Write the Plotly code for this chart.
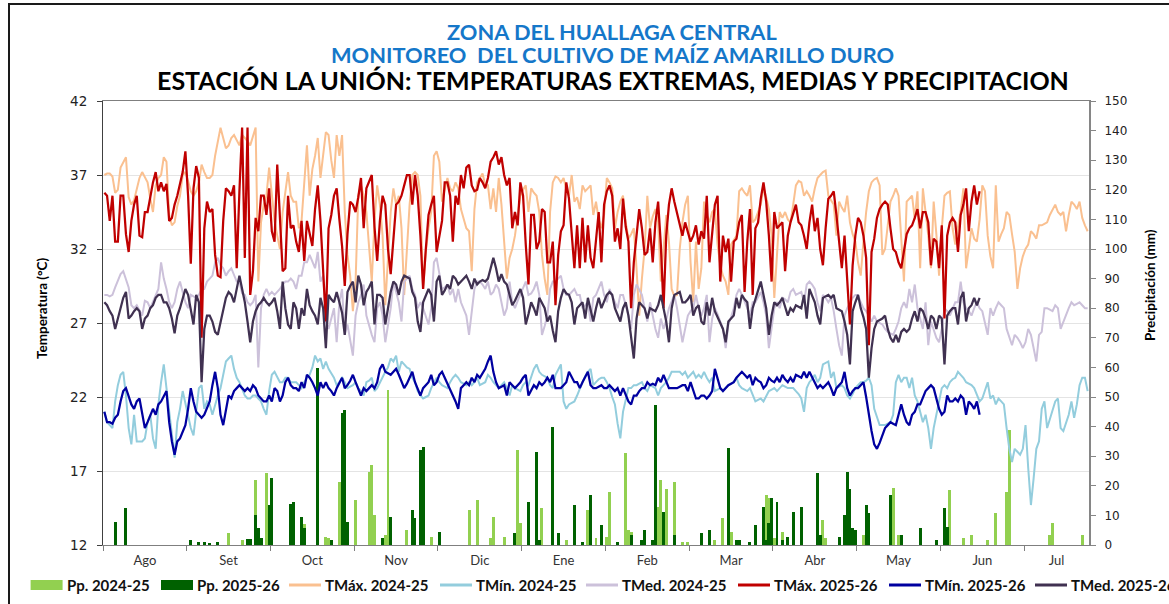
import plotly.graph_objects as go

MONTHS = ["Ago", "Set", "Oct", "Nov", "Dic", "Ene", "Feb", "Mar", "Abr", "May", "Jun", "Jul"]

TMAX_2425 = [
 37.0,37.1,37.1,36.9,35.8,36.0,37.5,37.9,38.2,35.5,35.0,35.3,36.1,36.8,37.2,36.8,36.5,35.4,34.5,36.3,
 36.8,37.0,38.2,37.9,34.3,33.6,33.8,34.9,35.6,37.0,37.2,36.6,35.9,35.6,35.9,36.5,37.7,37.2,36.8,36.8,
 37.0,38.3,39.3,40.2,39.5,38.8,39.0,39.5,39.7,39.3,39.0,39.7,39.5,39.3,39.0,39.6,40.2,29.8,33.8,35.0,
 35.6,37.5,35.6,33.9,32.9,32.0,34.5,36.0,37.2,35.6,35.2,
 35.2,33.4,33.9,36.8,39.0,35.6,37.4,38.3,39.5,36.8,38.3,39.9,39.7,38.0,36.8,39.7,38.3,39.7,34.5,31.6,
 30.2,27.8,29.8,35.6,36.3,35.6,34.5,32.4,29.8,33.9,36.3,35.0,32.9,28.2,31.5,34.5,36.1,35.0,35.6,33.4,
 28.9,32.0,35.0,37.0,37.2,37.0,35.6,29.3,31.8,33.4,34.5,38.3,38.6,37.9,35.2,36.0,36.8,36.1,35.9,36.5,
 36.1,34.7,34.0,33.4,33.2,30.5,34.7,36.5,36.8,37.1,36.3,36.3,34.7,36.1,34.5,36.8,35.0,32.3,
 30.0,31.4,32.0,32.9,34.3,35.6,36.0,36.3,34.5,36.1,35.8,35.6,34.5,31.6,30.0,28.9,34.5,36.5,36.9,36.8,
 36.5,36.8,36.0,35.6,37.0,35.2,35.5,34.7,36.3,35.9,36.1,36.3,34.3,35.2,34.0,33.4,34.3,36.8,36.5,36.1,
 33.4,34.5,35.2,35.6,33.8,32.7,33.0,33.4,30.7,27.5,30.0,32.0,35.6,33.4,34.2,34.7,33.8,29.8,32.0,34.3,
 32.5,29.3,28.8,28.9,32.0,33.8,35.0,35.6,31.1,28.4,32.5,29.3,30.7,35.2,
 34.3,33.8,34.5,34.7,32.3,30.9,30.2,29.8,28.9,32.3,32.6,32.9,35.9,36.1,35.8,35.6,36.3,33.8,34.0,34.5,
 35.0,36.1,35.5,34.7,32.9,28.7,31.5,34.5,34.1,34.5,34.0,33.8,35.0,36.3,36.6,36.5,35.6,35.9,35.6,35.2,
 36.1,36.8,37.0,37.2,37.3,35.6,35.3,35.0,32.9,35.2,34.8,34.5,35.6,33.8,33.0,32.5,31.1,30.2,32.5,34.5,
 35.9,36.5,36.7,36.8,36.3,31.6,32.0,33.8,35.2,35.6,36.1,35.6,32.3,29.8,
 35.2,35.4,35.6,34.0,35.9,30.7,36.1,34.5,32.9,30.7,35.2,33.0,30.2,33.4,35.6,35.8,35.9,33.4,32.3,33.5,
 34.5,36.1,30.7,32.0,33.4,32.7,32.5,34.0,36.3,35.9,32.9,31.5,30.7,36.3,32.5,33.0,33.4,34.5,34.3,33.0,
 31.8,29.3,30.7,31.5,32.0,32.3,33.2,33.0,32.7,33.6,33.6,33.7,33.8,34.3,34.7,35.0,34.5,34.3,34.5,33.2,
 34.3,35.2,35.0,34.7,35.2,34.1,33.6,33.2,
]

TMIN_2425 = [
 21.0,20.3,20.1,19.9,21.7,22.8,23.5,23.7,22.1,19.9,18.8,20.8,19.0,19.0,19.0,19.2,20.3,20.8,19.2,18.5,
 21.5,23.0,24.2,22.6,21.0,19.4,17.9,20.3,21.2,22.4,21.5,20.8,19.9,19.4,21.0,22.6,22.8,21.2,21.7,21.5,
 20.8,21.5,22.1,22.6,23.5,24.4,24.6,24.8,23.9,23.3,23.0,22.6,22.1,21.9,21.9,22.1,22.1,21.9,21.7,21.2,
 20.8,22.4,23.5,23.7,23.3,23.0,23.0,23.3,23.3,23.0,23.0,
 23.0,22.8,22.6,23.0,23.3,23.5,24.0,24.8,24.4,24.6,23.9,24.4,23.9,23.6,23.3,22.8,23.0,23.3,23.0,22.6,
 22.7,22.8,23.0,22.6,22.4,22.1,23.0,23.1,23.3,22.4,22.6,23.0,23.3,23.7,24.0,24.6,24.4,24.8,23.7,24.4,
 24.2,24.0,23.9,23.3,23.0,22.4,22.1,21.9,22.0,22.1,22.6,23.0,23.3,23.0,22.8,22.7,22.6,23.0,23.3,23.5,
 23.3,23.0,22.9,22.8,23.0,22.8,23.0,23.3,22.8,22.9,23.0,23.5,23.3,23.0,22.8,22.6,22.8,23.0,
 22.6,22.1,22.8,22.6,22.5,22.4,22.8,23.0,22.8,23.4,23.9,24.2,23.7,23.5,23.4,23.3,22.8,22.6,23.5,23.9,
 24.2,21.7,21.2,21.5,21.6,21.7,22.1,22.6,23.0,23.4,23.7,23.9,22.8,23.0,23.2,23.3,23.3,23.0,22.6,22.0,
 21.5,20.2,19.2,21.0,21.8,22.6,22.6,22.8,22.8,22.9,23.0,22.6,22.4,22.8,22.7,22.6,22.1,22.6,22.8,23.0,
 23.3,23.7,23.7,23.7,23.7,23.5,23.7,23.3,23.5,23.7,23.3,23.5,23.3,23.7,
 23.3,23.0,23.3,22.4,22.5,22.6,22.4,22.6,22.8,22.9,23.0,23.3,22.8,22.6,22.5,22.4,22.6,22.1,21.7,21.8,
 21.9,21.7,22.1,22.4,22.5,22.6,22.4,22.6,22.8,22.7,22.6,22.6,22.6,22.4,22.2,21.9,21.0,22.6,23.0,23.2,
 23.5,23.0,23.3,24.2,24.3,24.4,23.3,23.7,22.6,22.7,22.8,22.6,22.1,21.9,22.2,22.6,22.8,23.0,23.0,23.1,
 23.3,22.8,21.2,20.6,20.1,20.1,20.1,20.2,20.3,20.8,23.0,23.5,23.0,23.3,
 23.3,22.6,23.3,22.1,21.7,21.0,20.3,20.8,19.9,18.5,19.9,20.8,21.7,22.6,22.8,22.6,23.0,23.2,23.3,23.7,
 23.5,23.3,23.0,22.9,22.8,22.6,22.1,21.7,21.9,22.5,23.0,21.9,22.1,21.5,21.9,21.7,21.5,19.9,18.5,17.6,
 18.5,18.3,18.1,18.5,20.1,17.2,14.7,16.5,18.5,19.0,21.2,21.7,19.9,20.5,21.2,21.7,21.9,19.9,19.7,20.2,
 20.8,21.7,20.6,21.5,22.8,23.3,23.3,22.4,
]

TMED_2425 = [
 28.9,28.9,28.8,28.9,29.4,29.8,30.3,30.5,29.9,29.4,28.2,28.0,28.2,27.8,27.5,28.5,28.4,28.0,28.4,28.9,
 29.3,31.1,30.0,29.3,28.4,28.0,28.4,29.3,29.8,29.1,28.4,28.0,28.9,28.8,28.7,28.9,29.3,29.3,29.8,30.0,
 30.2,31.1,31.4,30.9,30.7,30.2,30.5,30.7,30.2,29.8,29.8,29.0,28.9,28.4,28.2,28.4,28.9,24.0,28.0,28.9,
 29.3,28.9,29.1,28.9,29.1,29.3,29.6,29.8,29.8,30.0,29.8,
 29.3,30.2,30.2,31.1,31.1,31.6,31.2,30.7,31.8,29.8,30.2,27.1,26.6,27.3,28.0,25.7,28.4,29.3,26.2,26.9,
 25.8,24.8,27.5,28.4,28.9,29.6,27.5,26.8,26.2,25.7,28.0,28.4,27.5,25.7,26.9,28.0,29.8,29.1,28.4,27.1,
 29.8,30.0,30.2,29.3,28.9,28.0,28.4,28.0,27.4,26.9,28.0,31.1,31.4,30.2,29.3,29.4,29.6,28.9,29.3,28.4,
 29.3,28.4,28.0,27.5,26.2,28.0,29.3,29.8,29.8,29.6,29.3,29.8,28.9,29.1,29.6,29.3,28.5,27.5,
 28.0,29.8,28.4,28.0,28.5,28.9,29.3,29.8,28.9,29.0,29.3,29.8,28.9,26.2,26.8,27.5,29.3,29.8,29.8,30.0,
 30.2,29.3,28.9,28.9,29.1,29.3,28.9,28.9,28.0,28.2,28.4,27.1,28.7,28.9,29.4,29.8,28.9,28.4,29.3,28.8,
 28.4,28.0,28.9,28.9,28.2,27.5,26.6,28.9,29.6,29.2,28.9,28.0,27.1,28.4,27.5,26.6,26.0,27.3,26.6,27.2,
 28.0,28.4,28.9,28.0,26.8,25.7,26.6,27.5,27.8,28.0,28.9,28.0,27.5,28.0,
 28.9,25.7,27.3,28.0,27.6,27.1,26.6,25.3,26.9,27.4,28.0,28.9,29.3,28.9,28.5,28.0,27.5,28.4,28.4,28.8,
 29.1,28.4,27.5,25.3,26.5,28.0,28.4,28.0,28.7,28.6,28.4,29.1,29.3,28.9,29.0,29.1,28.4,29.6,29.8,29.6,
 29.3,28.4,27.8,28.9,28.7,28.4,28.7,27.8,26.6,25.5,24.8,27.5,28.0,28.4,28.7,28.9,28.9,28.4,28.0,27.8,
 27.5,27.1,27.5,27.1,27.0,26.9,26.6,26.4,26.3,26.2,26.6,27.1,28.0,28.4,
 28.0,29.3,28.4,29.6,28.0,27.2,26.6,28.4,25.5,27.1,26.6,26.0,25.7,26.6,28.0,27.8,27.5,28.0,28.4,28.4,
 29.8,28.4,28.0,27.8,27.5,28.0,28.4,28.0,27.8,27.0,26.2,28.0,27.5,28.0,28.4,28.2,28.0,26.6,26.0,25.5,
 26.2,26.0,25.7,25.3,25.7,26.6,26.2,25.3,24.4,26.2,26.4,28.0,28.0,27.9,27.8,28.2,28.0,26.6,27.1,27.6,
 28.0,28.4,28.2,28.3,28.4,28.2,28.0,28.0,
]

TMAX_2526 = [
 35.8,35.6,33.9,35.6,32.5,32.5,35.6,35.6,33.0,31.8,33.9,35.0,35.6,32.9,32.8,34.5,34.5,35.5,36.5,37.2,
 35.9,36.5,35.9,36.4,33.9,34.1,35.0,35.6,36.5,37.2,38.6,35.6,31.0,36.1,37.6,36.8,26.0,33.4,35.2,34.5,
 34.7,31.6,30.2,30.1,33.9,36.1,35.9,35.6,36.3,30.7,35.9,40.2,31.4,40.2,28.9,30.5,34.1,33.2,35.6,35.6,
 34.3,36.1,33.2,32.5,37.7,33.9,30.5,30.7,35.6,33.4,33.6,
 32.5,31.8,33.9,31.2,33.9,33.0,32.2,34.7,36.3,33.9,30.0,27.1,33.4,34.3,35.6,36.1,34.0,32.2,29.5,33.0,
 35.2,35.0,34.5,35.5,36.8,33.4,36.1,36.5,37.0,33.5,31.2,33.9,35.6,35.0,32.0,30.3,32.7,35.0,35.2,35.6,
 36.3,37.0,37.0,35.0,37.0,35.6,32.9,29.3,32.0,34.3,35.0,35.6,31.8,33.0,33.9,36.5,36.5,35.6,32.5,35.6,
 35.0,37.0,36.1,37.5,37.7,36.3,35.9,36.0,36.8,36.5,36.1,36.8,37.9,38.2,38.6,37.7,38.2,37.0,
 36.3,36.8,33.4,34.5,33.6,36.5,35.6,32.3,29.6,34.3,34.3,32.0,32.5,34.7,34.5,31.1,31.1,32.5,28.2,31.6,
 33.2,33.6,36.5,35.4,32.7,30.7,33.6,30.7,34.1,31.1,33.6,31.4,30.7,32.9,34.5,31.1,35.0,35.9,36.3,35.6,
 32.5,33.4,32.0,35.4,33.5,32.5,28.0,31.1,32.7,34.7,33.4,31.6,31.8,33.4,31.1,33.8,35.2,32.3,28.0,32.9,
 35.0,36.1,35.2,34.5,33.8,32.9,33.8,33.2,32.5,32.9,33.6,32.3,33.2,32.7,
 35.6,31.1,32.9,35.0,35.6,29.8,32.9,31.8,32.7,29.8,32.5,32.7,33.8,34.3,29.1,32.5,34.7,28.9,33.4,33.8,
 35.4,36.5,35.2,32.9,29.8,34.5,33.4,33.6,33.8,30.5,32.9,33.8,34.5,35.0,33.8,33.6,32.9,32.0,33.8,35.0,
 33.2,34.1,32.0,30.9,33.4,35.4,35.6,35.9,34.3,32.3,30.7,32.9,30.2,26.9,30.9,32.9,34.1,33.8,32.9,31.4,
 25.5,31.8,32.7,34.1,34.7,35.0,35.2,35.0,33.4,32.0,31.8,31.1,30.7,32.0,
 33.0,33.4,33.6,34.1,34.7,33.4,34.5,34.5,33.8,30.9,32.7,32.5,30.7,33.6,27.3,32.9,33.8,34.1,33.8,31.8,
 34.3,35.0,36.1,33.2,35.2,36.3,35.0,35.9,
]

TMIN_2526 = [
 21.0,20.3,20.3,20.2,20.6,20.8,21.7,22.4,22.6,22.1,21.5,21.2,21.7,21.9,21.0,19.9,20.3,20.8,21.2,20.8,
 21.5,21.7,22.1,22.4,20.3,19.0,18.1,19.0,19.2,19.7,20.1,21.2,22.6,21.7,21.0,20.8,20.6,20.8,21.2,21.7,
 22.8,23.7,22.6,20.8,20.1,21.2,22.1,21.9,22.4,22.6,22.8,22.6,22.4,22.6,22.4,22.8,22.6,22.1,21.9,21.7,
 21.7,22.1,21.7,22.6,22.4,21.7,22.1,23.0,23.3,22.8,22.6,
 22.6,22.4,23.0,22.6,23.5,23.3,23.0,22.6,22.1,23.0,22.6,23.0,22.6,22.4,22.1,22.6,23.0,23.3,22.6,22.8,
 23.1,23.5,23.0,22.6,22.1,22.6,22.4,22.6,22.8,22.6,23.0,23.9,24.2,23.7,23.6,23.5,23.7,23.9,23.5,23.0,
 22.6,22.9,23.3,23.7,23.0,22.6,22.1,22.6,22.8,23.0,23.5,22.8,23.0,23.5,23.7,23.3,23.0,22.6,22.1,21.7,
 21.2,22.6,22.8,23.0,22.8,23.3,23.0,23.5,23.3,23.6,23.9,24.4,24.8,23.7,23.0,22.6,22.7,22.8,
 22.1,23.0,22.8,22.6,22.8,23.0,23.3,23.5,22.1,22.5,22.8,22.6,23.0,22.8,23.0,23.3,23.0,23.5,22.6,22.6,
 22.6,22.8,23.0,23.7,23.3,23.0,23.0,22.6,23.0,23.4,23.7,22.8,22.6,22.6,22.7,22.8,22.6,22.6,22.8,22.6,
 22.4,22.6,22.1,22.6,22.2,21.7,21.5,22.1,22.1,22.4,22.6,22.6,23.0,22.8,22.9,22.8,23.3,23.0,23.5,23.0,
 22.6,22.6,22.6,22.6,22.7,22.8,22.8,22.4,23.0,22.4,21.9,21.9,22.1,22.1,
 21.9,22.1,22.4,23.9,23.2,22.6,22.4,22.6,22.8,22.9,23.0,23.3,23.5,23.7,23.5,23.3,23.5,22.8,23.3,23.1,
 23.0,22.6,22.8,23.3,23.1,23.0,23.3,23.0,23.5,23.2,23.0,23.3,23.0,23.5,23.4,23.3,23.7,23.3,23.7,23.3,
 23.0,22.6,22.8,22.6,22.8,23.0,22.6,22.1,22.6,22.8,23.0,23.7,22.6,22.1,22.4,22.6,22.6,22.8,23.0,22.0,
 20.8,19.7,18.8,18.5,18.9,19.4,19.9,20.1,20.3,20.2,20.1,20.8,21.5,20.8,
 20.3,20.1,20.8,21.0,21.5,21.5,21.9,22.4,22.6,22.8,22.6,21.9,21.2,20.8,21.0,22.1,21.7,21.7,21.9,21.7,
 22.1,21.9,20.8,21.7,21.5,21.2,21.7,20.8,
]

TMED_2526 = [
 28.4,28.2,27.8,27.5,26.6,27.3,28.0,28.7,29.1,27.3,27.5,27.8,28.0,27.8,26.6,27.3,27.5,28.0,28.2,28.7,
 28.9,28.9,28.4,28.4,28.0,27.3,26.3,27.5,28.0,28.7,29.3,28.9,28.0,26.9,28.9,28.4,23.0,26.6,27.5,27.5,
 27.1,26.4,26.2,27.1,28.0,28.7,29.1,28.9,28.4,29.3,30.2,29.3,28.4,27.1,25.7,27.1,27.8,28.2,28.4,28.7,
 28.4,28.2,28.4,28.7,27.8,26.6,29.8,28.0,26.9,26.6,28.4,
 28.0,26.6,28.0,27.5,29.3,28.2,27.8,27.5,26.9,28.7,28.0,25.3,28.9,28.6,28.4,29.1,28.4,27.7,26.2,29.1,
 29.5,29.8,28.4,30.2,29.6,28.2,29.1,29.4,29.8,26.9,28.9,28.9,28.7,26.9,28.0,29.1,29.8,29.6,28.9,29.8,
 30.2,30.1,30.0,29.1,28.7,27.1,26.4,28.4,28.9,29.3,28.9,27.1,29.8,30.2,28.9,29.2,29.6,29.3,30.2,30.0,
 29.6,29.8,30.0,30.2,29.8,29.3,30.0,29.6,29.8,29.9,29.8,30.0,30.7,31.4,30.7,29.8,30.3,29.8,
 29.6,28.9,28.2,28.5,28.9,29.3,28.7,26.9,27.6,28.4,28.0,27.5,28.7,28.3,28.0,27.1,27.5,26.5,25.7,27.8,
 28.7,29.3,29.0,28.9,28.4,26.9,28.0,28.2,28.4,27.3,28.7,27.9,27.1,28.0,28.7,28.0,28.5,28.9,29.1,28.9,
 28.0,27.6,27.1,28.0,28.4,27.5,26.2,24.6,27.3,28.4,28.2,28.0,27.3,28.0,27.9,27.8,28.2,28.9,28.0,27.1,
 25.7,28.0,28.9,29.0,29.1,28.4,28.4,28.6,28.9,27.5,28.0,28.2,27.1,26.9,
 28.4,27.5,28.7,27.8,27.4,27.1,26.6,25.7,27.1,27.3,27.5,28.7,28.0,28.9,28.6,28.4,26.6,28.0,28.7,29.2,
 29.8,28.9,28.0,26.2,27.5,28.4,28.2,28.4,28.7,28.1,27.5,28.0,27.8,28.2,28.1,28.0,28.9,27.3,29.3,28.8,
 28.4,27.5,26.9,28.7,28.8,28.9,28.7,28.9,28.0,27.9,27.8,27.1,26.2,24.2,27.8,28.4,28.9,28.0,27.4,26.6,
 23.3,25.3,26.6,27.1,27.2,27.3,27.5,26.6,26.0,25.7,26.2,25.7,26.4,26.6,
 26.4,26.6,27.3,27.8,27.1,28.0,27.8,27.3,26.6,27.5,27.3,26.6,27.5,27.3,24.2,27.5,27.8,28.0,28.0,26.9,
 28.7,29.1,27.1,28.0,28.2,28.7,28.2,28.7,
]

PP_2425_DAY = [46, 51, 56, 60, 69, 74, 82, 83, 87, 93, 98, 99, 100, 104, 105, 112, 121, 135, 138, 143,
               144, 148, 153, 154, 162, 171, 179, 180, 182, 186, 187, 193, 194, 195, 205, 206, 208, 211,
               214, 216, 226, 229, 231, 232, 245, 246, 248, 251, 266, 267, 276, 281, 292, 294, 313, 318,
               321, 327, 330, 334, 335, 350, 351, 362]
PP_2425_MM = [4.0, 1.7, 22.0, 24.2, 9.0, 7.0, 2.8, 2.2, 21.4, 15.2, 24.8, 27.0, 10.0, 3.4, 52.4, 5.0, 2.8,
              11.8, 15.2, 2.2, 9.6, 2.8, 32.0, 7.3, 12.4, 1.7, 11.8, 8.4, 2.2, 2.8, 18.0, 31.0, 5.0, 4.5,
              13.0, 22.0, 19.0, 21.4, 1.0, 1.0, 1.7, 9.0, 5.0, 4.5, 16.9, 15.8, 2.2, 4.5, 8.4, 2.2, 5.6,
              3.4, 19.1, 3.4, 18.6, 2.2, 3.4, 1.7, 10.7, 18.0, 38.9, 3.4, 7.3, 3.4]

PP_2526_DAY = [4, 8, 32, 35, 37, 39, 42, 53, 54, 56, 57, 58, 61, 62, 69, 70, 73, 74, 79, 84, 88, 89, 90,
               103, 106, 114, 115, 117, 118, 124, 152, 157, 160, 161, 166, 168, 174, 177, 180, 184, 190,
               195, 199, 200, 203, 204, 207, 211, 221, 224, 231, 234, 235, 239, 241, 244, 245, 246, 247,
               249, 251, 253, 255, 258, 264, 265, 272, 274, 275, 276, 277, 278, 282, 283, 291, 295, 302,
               308, 311, 312]
PP_2526_MM = [7.9, 12.4, 1.7, 1.0, 1.0, 0.5, 1.0, 2.0, 2.0, 10.0, 5.6, 2.2, 13.5, 22.5, 14.0, 14.4, 9.6,
              5.6, 59.7, 1.7, 44.5, 45.6, 7.9, 2.2, 9.6, 11.8, 9.0, 32.0, 33.2, 4.5, 4.0, 14.6, 31.5, 1.7,
              40.0, 4.0, 13.5, 1.0, 16.9, 6.8, 1.0, 3.4, 1.7, 5.0, 1.7, 47.3, 11.3, 3.4, 4.0, 5.0, 32.7,
              1.7, 1.7, 1.0, 6.8, 13.0, 1.7, 7.3, 15.8, 14.6, 1.7, 2.8, 11.3, 13.0, 24.2, 3.4, 2.8, 10.0,
              24.8, 19.0, 5.6, 5.0, 13.5, 10.7, 16.9, 3.4, 5.6, 1.7, 12.4, 6.2]

assert len(TMAX_2425) == len(TMIN_2425) == len(TMED_2425) == 365
assert len(TMAX_2526) == len(TMIN_2526) == len(TMED_2526) == 325
assert len(PP_2425_DAY) == len(PP_2425_MM) and len(PP_2526_DAY) == len(PP_2526_MM)

days_a = list(range(len(TMAX_2425)))
days_b = list(range(len(TMAX_2526)))

# Excel-like category axis: tick marks every 31 categories, labels centred between them
bounds = [-0.5 + 31 * k for k in range(12)] + [len(days_a) - 0.5]
label_pos = [(bounds[i] + bounds[i + 1]) / 2 for i in range(12)]

bar_specs = [
    ("Pp. 2024-25", PP_2425_DAY, PP_2425_MM, "#92D050"),
    ("Pp. 2025-26", PP_2526_DAY, PP_2526_MM, "#006100"),
]
line_specs = [
    ("TMáx. 2024-25", days_a, TMAX_2425, "#FAC090", 2.0),
    ("TMín. 2024-25", days_a, TMIN_2425, "#93CDDD", 2.0),
    ("TMed. 2024-25", days_a, TMED_2425, "#CCC1DA", 2.0),
    ("TMáx. 2025-26", days_b, TMAX_2526, "#C00000", 2.25),
    ("TMín. 2025-26", days_b, TMIN_2526, "#0000A0", 2.25),
    ("TMed. 2025-26", days_b, TMED_2526, "#403151", 2.25),
]

fig = go.Figure()
for name, xs, ys, col in bar_specs:
    fig.add_trace(go.Bar(x=xs, y=ys, name=name, width=1.1, showlegend=False,
                         marker=dict(color=col, line=dict(width=0)), yaxis="y"))
for name, xs, ys, col, w in line_specs:
    fig.add_trace(go.Scatter(x=xs, y=ys, name=name, mode="lines", showlegend=False,
                             line=dict(color=col, width=w), yaxis="y2"))

L, R, T, B = 103, 80, 101, 59
W, H = 1169, 604
pw, ph = W - L - R, H - T - B

def px_x(p):
    return (p - L) / pw

def px_y(p):
    return (H - B - p) / ph

annotations = [
    dict(text="<b>ZONA DEL HUALLAGA CENTRAL</b>", xref="paper", yref="paper",
         x=px_x(612), y=px_y(31), xanchor="center", yanchor="middle", showarrow=False,
         font=dict(family="Lato", size=21.8, color="#1577C9")),
    dict(text="<b>MONITOREO  DEL CULTIVO DE MAÍZ AMARILLO DURO</b>", xref="paper", yref="paper",
         x=px_x(612), y=px_y(54), xanchor="center", yanchor="middle", showarrow=False,
         font=dict(family="Lato", size=21.8, color="#1577C9")),
    dict(text="<b>ESTACIÓN LA UNIÓN: TEMPERATURAS EXTREMAS, MEDIAS Y PRECIPITACION</b>",
         xref="paper", yref="paper", x=px_x(613), y=px_y(80), xanchor="center",
         yanchor="middle", showarrow=False, font=dict(family="Lato", size=25, color="#000000")),
    dict(text="<b>Temperatura (°C)</b>", xref="paper", yref="paper", x=px_x(42), y=px_y(308),
         xanchor="center", yanchor="middle", showarrow=False, textangle=-90,
         font=dict(family="Lato", size=13.5, color="#000000")),
    dict(text="<b>Precipitación (mm)</b>", xref="paper", yref="paper", x=px_x(1150),
         y=px_y(285), xanchor="center", yanchor="middle", showarrow=False, textangle=-90,
         font=dict(family="Lato", size=13.5, color="#000000")),
]
shapes = [
    dict(type="rect", xref="paper", yref="paper", x0=px_x(9), x1=px_x(1200),
         y0=px_y(640), y1=px_y(4), line=dict(color="#1A1A1A", width=2),
         fillcolor="rgba(0,0,0,0)", layer="below"),
]

# Legend row drawn by hand (Excel-style layout in one line)
legend_left = [30.6, 161, 289, 440, 586, 738, 889, 1035]
legend_y = 585
sym_w = 32
entries = [(n, c, "bar") for n, _, _, c in bar_specs] + [(n, c, "line") for n, _, _, c, _ in line_specs]
for (name, col, kind), lx in zip(entries, legend_left):
    if kind == "bar":
        shapes.append(dict(type="rect", xref="paper", yref="paper", x0=px_x(lx), x1=px_x(lx + sym_w),
                           y0=px_y(legend_y + 5), y1=px_y(legend_y - 5), line=dict(width=0),
                           fillcolor=col))
    else:
        shapes.append(dict(type="line", xref="paper", yref="paper", x0=px_x(lx), x1=px_x(lx + sym_w),
                           y0=px_y(legend_y), y1=px_y(legend_y), line=dict(color=col, width=3)))
    annotations.append(dict(text="<b>" + name + "</b>", xref="paper", yref="paper",
                            x=px_x(lx + sym_w + 2), y=px_y(legend_y), xanchor="left", yanchor="middle",
                            showarrow=False, font=dict(family="Lato", size=15, color="#111111")))

fig.update_layout(
    width=W, height=H,
    margin=dict(l=L, r=R, t=T, b=B, autoexpand=False),
    paper_bgcolor="white", plot_bgcolor="white",
    barmode="overlay", bargap=0,
    showlegend=False,
    xaxis=dict(range=[-0.5, len(days_a) - 0.5], tickmode="array", tickvals=label_pos, ticktext=MONTHS,
               ticks="", showgrid=False, zeroline=False, showline=True, linecolor="#7F7F7F",
               linewidth=1, mirror=True, ticklabelstandoff=3,
               tickfont=dict(family="Lato", size=13, color="#333333"),
               minor=dict(tickmode="linear", tick0=-0.5, dtick=31, ticks="outside", ticklen=5,
                          tickcolor="#7F7F7F", showgrid=False)),
    yaxis=dict(range=[0, 150], tickmode="linear", tick0=0, dtick=10, side="right",
               showgrid=False, zeroline=False, showline=True, linecolor="#868686", linewidth=2,
               ticks="outside", ticklen=5, tickcolor="#868686",
               tickfont=dict(family="DejaVu Sans", size=12, color="#222222"),
               ticklabelstandoff=6, automargin=False),
    yaxis2=dict(range=[12, 42], tickmode="linear", tick0=12, dtick=5, side="left", overlaying="y",
                showgrid=True, gridcolor="#E4E4E4", gridwidth=1, zeroline=False, showline=True,
                linecolor="#404040", linewidth=1, ticks="outside", ticklen=5, tickcolor="#404040",
                tickfont=dict(family="DejaVu Sans", size=13.5, color="#222222"),
                ticklabelstandoff=7, automargin=False),
    annotations=annotations,
    shapes=shapes,
)

fig.write_html("out.html", config={"displayModeBar": False},
               post_script="document.body.style.margin='0px';")
